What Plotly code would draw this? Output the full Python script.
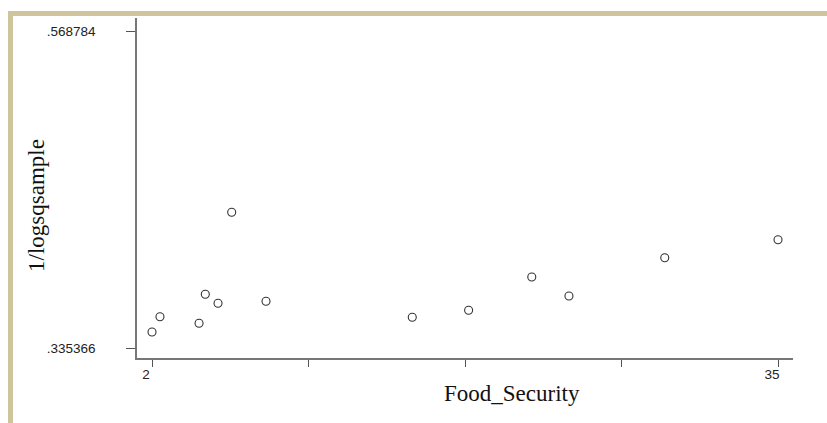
import plotly.graph_objects as go

# Scatter of 1/logsqsample against Food_Security
food_security = [2.0, 2.42, 4.48, 4.81, 5.48, 6.20, 8.01, 15.72, 18.69, 22.02, 23.98, 29.03, 35.0]
inv_logsqsample = [0.34717, 0.35845, 0.35358, 0.37497, 0.36833, 0.43545, 0.36981,
                   0.35801, 0.36317, 0.38773, 0.37372, 0.40196, 0.41524]

x_tick_vals = [2, 10.25, 18.5, 26.75, 35]
x_tick_text = ["2", "", "", "", "35"]
y_tick_vals = [0.335366, 0.568784]
y_tick_text = [".335366", ".568784"]

W, H = 827, 423
L, R, T, B = 137, 34, 18, 65
pw, ph = W - L - R, H - T - B

def px_x(p):
    return (p - L) / pw

def px_y(p):
    return (H - B - p) / ph

fig = go.Figure()
fig.add_trace(go.Scatter(
    x=food_security, y=inv_logsqsample, mode="markers",
    marker=dict(symbol="circle-open", size=8, color="#333333",
                line=dict(width=1.1, color="#333333")),
    showlegend=False, hoverinfo="x+y",
))

axis_line = "#777777"
tick_font = dict(family="Liberation Sans, Arial", size=13.5, color="#222222")
fig.update_xaxes(
    range=[1.209, 35.79], showgrid=False, zeroline=False,
    showline=True, linecolor=axis_line, linewidth=1.5,
    tickmode="array", tickvals=x_tick_vals, ticktext=x_tick_text,
    ticks="outside", ticklen=7, tickcolor="#555555", tickwidth=1,
    tickfont=tick_font, ticklabelshift=-6, ticklabelstandoff=-4,
)
fig.update_yaxes(
    range=[0.32799, 0.57874], showgrid=False, zeroline=False,
    showline=True, linecolor=axis_line, linewidth=1.5,
    tickmode="array", tickvals=y_tick_vals, ticktext=y_tick_text,
    ticks="outside", ticklen=9, tickcolor="#555555", tickwidth=1,
    tickfont=tick_font, ticklabelstandoff=28,
)

# Tan frame along the top and left edges
tan = "#CFC49C"
fig.add_shape(type="rect", xref="paper", yref="paper",
              x0=px_x(8), x1=px_x(W + 5), y0=px_y(16), y1=px_y(11),
              fillcolor=tan, line=dict(width=0), layer="above")
fig.add_shape(type="rect", xref="paper", yref="paper",
              x0=px_x(8), x1=px_x(13), y0=px_y(H + 5), y1=px_y(11),
              fillcolor=tan, line=dict(width=0), layer="above")

# Axis titles
title_font = dict(family="Liberation Serif, Times New Roman", size=23, color="#111111")
fig.add_annotation(text="Food_Security", xref="paper", yref="paper",
                   x=px_x(512), y=px_y(393), xanchor="center", yanchor="middle",
                   showarrow=False, font=title_font)
fig.add_annotation(text="1/logsqsample", xref="paper", yref="paper",
                   x=px_x(36), y=px_y(206), xanchor="center", yanchor="middle",
                   showarrow=False, textangle=-90, font=title_font)

fig.update_layout(
    width=W, height=H,
    margin=dict(l=L, r=R, t=T, b=B),
    paper_bgcolor="white", plot_bgcolor="white",
)

fig.write_html("out.html")
